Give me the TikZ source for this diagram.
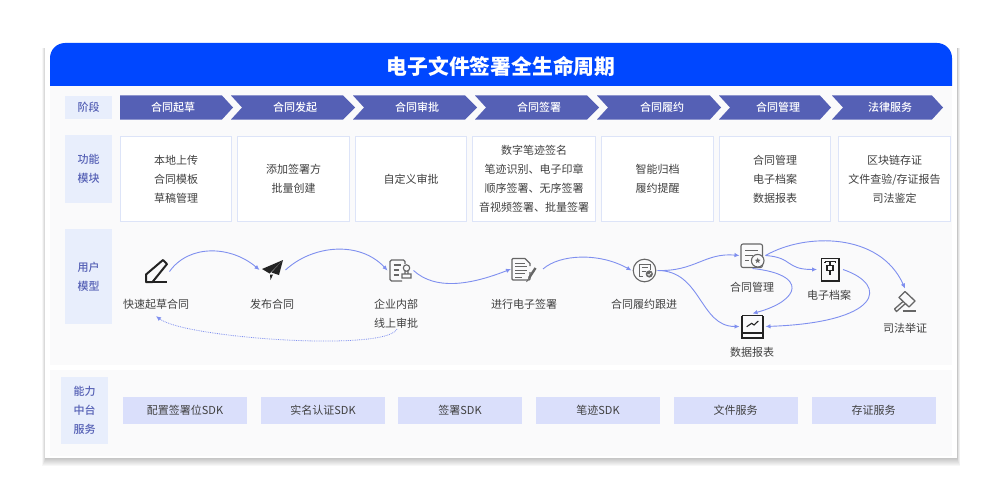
\documentclass[tikz,border=0pt]{standalone}
\usepackage{fontspec}
\setmainfont{Noto Sans CJK SC}
\newfontfamily\mediumfont{Noto Sans CJK SC Medium}
\usetikzlibrary{arrows.meta}
\definecolor{headblue}{HTML}{0047FF}
\definecolor{pagegray}{HTML}{FAFAFB}
\definecolor{stageblue}{HTML}{5560B5}
\definecolor{labelfill}{HTML}{E8EEFC}
\definecolor{boxline}{HTML}{DDE4F8}
\definecolor{sdkfill}{HTML}{DADFFB}
\definecolor{flowblue}{HTML}{7F8FEF}
\definecolor{texttone}{HTML}{404040}
\definecolor{icongray}{HTML}{666666}
\definecolor{icondark}{HTML}{232323}
\tikzset{
  every node/.style={inner sep=0pt,outer sep=0pt,align=center,text=texttone,font=\fontsize{11}{19}\selectfont},
  rowlabel/.style={fill=labelfill,text=stageblue,font=\fontsize{11}{19}\selectfont\mediumfont,minimum width=47pt},
  stagetext/.style={text=white,font=\fontsize{11}{19}\selectfont\mediumfont},
  funcbox/.style={draw=boxline,line width=1pt,fill=white,minimum height=85pt},
  sdkbox/.style={fill=sdkfill,minimum width=124pt,minimum height=26.5pt},
  iconbox/.style={minimum width=26pt,minimum height=26pt},
  flow/.style={draw=flowblue,line width=0.9pt,-{Latex[length=5pt,width=4.5pt]}},
  backflow/.style={flow,line width=0.8pt,densely dotted},
  shadowlayer/.style={fill=black,opacity=0.03}
}
\begin{document}
\begin{tikzpicture}[x=1pt,y=-1pt]
\useasboundingbox (0,0) rectangle (1000,500);
\fill [shadowlayer] (42,48) rectangle (960,466);
\fill [shadowlayer] (42.5,48) rectangle (959.5,465);
\fill [shadowlayer] (43,48) rectangle (959,464);
\fill [shadowlayer] (43.5,48) rectangle (958.5,463);
\fill [shadowlayer] (44,48) rectangle (958,462);
\fill [shadowlayer] (44.5,48) rectangle (957.5,461);
\fill [shadowlayer] (44.5,48) rectangle (957.5,460);
\fill [shadowlayer] (44.5,48) rectangle (957.5,459);
\fill [white] (45,43) rectangle (957,458);
\fill [pagegray] (50,86) rectangle (952,365);
\fill [pagegray] (50,370) rectangle (952,456);
\fill [headblue] (50,86) [rounded corners=15pt] -- (50,43) -- (952,43) [sharp corners] -- (952,86) -- cycle;
\node [text=white,font=\fontsize{20.8}{26}\selectfont\bfseries] (title) at (501,66) {电子文件签署全生命周期};

\node [rowlabel,minimum height=23pt] (stagelabel) at (88.5,107.5) {阶段};
\fill [stageblue] (120,95.5) -- (222,95.5) -- (233,107.5) -- (222,119.5) -- (120,119.5) -- cycle;
\fill [stageblue] (231,95.5) -- (343,95.5) -- (355,107.5) -- (343,119.5) -- (231,119.5) -- (242,107.5) -- cycle;
\fill [stageblue] (353,95.5) -- (465,95.5) -- (477,107.5) -- (465,119.5) -- (353,119.5) -- (364,107.5) -- cycle;
\fill [stageblue] (475,95.5) -- (587,95.5) -- (599,107.5) -- (587,119.5) -- (475,119.5) -- (486,107.5) -- cycle;
\fill [stageblue] (597,95.5) -- (710,95.5) -- (721,107.5) -- (710,119.5) -- (597,119.5) -- (608,107.5) -- cycle;
\fill [stageblue] (719,95.5) -- (820,95.5) -- (831,107.5) -- (820,119.5) -- (719,119.5) -- (730,107.5) -- cycle;
\fill [stageblue] (832,95.5) -- (932,95.5) -- (943,107.5) -- (932,119.5) -- (832,119.5) -- (843,107.5) -- cycle;
\node [stagetext] (draftstage) at (173,107.5) {合同起草};
\node [stagetext] (launchstage) at (295,107.5) {合同发起};
\node [stagetext] (approvestage) at (417,107.5) {合同审批};
\node [stagetext] (signstage) at (539,107.5) {合同签署};
\node [stagetext] (fulfilstage) at (662,107.5) {合同履约};
\node [stagetext] (managestage) at (778,107.5) {合同管理};
\node [stagetext] (lawstage) at (890,107.5) {法律服务};

\node [rowlabel,minimum height=68pt] (funclabel) at (88.5,169) {功能\\模块};
\node [funcbox,minimum width=111pt] (draftfunc) at (176,179) {本地上传\\合同模板\\草稿管理};
\node [funcbox,minimum width=112pt] (launchfunc) at (293.5,179) {添加签署方\\批量创建};
\node [funcbox,minimum width=111pt] (approvefunc) at (411,179) {自定义审批};
\node [funcbox,minimum width=123pt] (signfunc) at (534,179) {数字笔迹签名\\笔迹识别、电子印章\\顺序签署、无序签署\\音视频签署、批量签署};
\node [funcbox,minimum width=112pt] (fulfilfunc) at (657.5,179) {智能归档\\履约提醒};
\node [funcbox,minimum width=111pt] (managefunc) at (775,179) {合同管理\\电子档案\\数据报表};
\node [funcbox,minimum width=112pt] (lawfunc) at (894.5,179) {区块链存证\\文件查验/存证报告\\司法鉴定};

\node [rowlabel,minimum height=95pt] (userlabel) at (88.5,276.5) {用户\\模型};
\node [iconbox] (pen) at (156.5,271.5) {};
\node [iconbox] (plane) at (272.5,270) {};
\node [iconbox] (stamp) at (400.5,270.5) {};
\node [iconbox] (sign) at (524,269) {};
\node [iconbox] (follow) at (644.5,270.5) {};
\node [iconbox] (manage) at (752.5,255.5) {};
\node [iconbox] (archive) at (830,269.5) {};
\node [iconbox] (gavel) at (905,301.5) {};
\node [iconbox] (report) at (752.5,326.5) {};
\node (pentext) at (156,304) {快速起草合同};
\node (planetext) at (272,304) {发布合同};
\node (stamptext) at (396,313.5) {企业内部\\线上审批};
\node (signtext) at (524,304) {进行电子签署};
\node (followtext) at (644,304) {合同履约跟进};
\node (managetext) at (752,287) {合同管理};
\node (archivetext) at (829,295) {电子档案};
\node (gaveltext) at (905,328) {司法举证};
\node (reporttext) at (752,352) {数据报表};

\draw [icondark,line width=2pt,line join=round] (146,274.5) -- (163,260) -- (167,264) -- (152.5,282) -- (146,282) -- cycle;
\draw [icondark,line width=2pt] (146,282) -- (167,282);
\fill [icondark] (283,260) -- (262,269) -- (269.5,273.5) -- cycle;
\fill [icondark] (283,260) -- (271.5,272.5) -- (279,275) -- cycle;
\fill [icondark] (270,274.5) -- (273,274.5) -- (270.5,280) -- cycle;
\draw [icongray,line width=1.1pt,rounded corners=1.5pt] (405,264) -- (405,260) -- (390,260) -- (390,281) -- (402,281);
\draw [icongray,line width=1.1pt] (393.5,265) -- (401,265) (393.5,270) -- (399,270) (393.5,275) -- (399,275);
\draw [icongray,line width=1.1pt] (406.5,268) circle (3.2) (405,271) -- (405,274) (408,271) -- (408,274) (402,274) rectangle (411,278);
\draw [icongray,line width=1.1pt,rounded corners=1pt] (525,258.5) -- (512,258.5) -- (512,280) -- (530,280) -- (530,272);
\draw [icongray,line width=1.1pt] (525,258.5) -- (530,263.5) -- (530,266);
\draw [icongray,line width=1pt] (515,263) -- (525,263) (515,266.5) -- (527,266.5) (515,270) -- (527,270) (515,273.5) -- (525,273.5) (515,277) -- (522,277);
\draw [icongray,line width=2.4pt] (535.5,268) -- (529,278);
\draw [icongray,line width=0.8pt] (529,278) -- (526.5,282);
\draw [icongray,line width=1.1pt] (follow) circle (11.3);
\draw [icongray,line width=1pt] (643,276.5) -- (639,276.5) -- (639,264) -- (650,264) -- (650,270);
\draw [icongray,line width=0.9pt] (641.5,267.5) -- (647.5,267.5) (641.5,271) -- (645.5,271);
\fill [icongray] (649.3,274) circle (3.6);
\draw [white,line width=0.7pt] (647.6,274) -- (649,275.4) -- (651.2,272.8);
\draw [icongray,line width=1.1pt,rounded corners=2pt] (741,244) rectangle (762.5,267.5);
\draw [icongray,line width=1pt] (745,250) -- (758,250) (745,255) -- (753,255) (745,260) -- (749,260);
\filldraw [draw=icongray,fill=pagegray,line width=1.1pt] (757.7,260.7) circle (6.3);
\fill [icongray,shift={(757.7,260.7)}] (0,-3) -- (0.8,-1) -- (2.9,-0.9) -- (1.3,0.4) -- (1.8,2.4) -- (0,1.2) -- (-1.8,2.4) -- (-1.3,0.4) -- (-2.9,-0.9) -- (-0.8,-1) -- cycle;
\draw [icondark,line width=1.7pt] (821.5,258.5) rectangle (839,281);
\draw [icondark,line width=1.1pt] (825,261.5) -- (835.5,261.5) -- (835.5,263) (825,261.5) -- (825,263) (830,261.5) -- (830,265.5) (830,270.5) -- (830,275) (827,265.5) rectangle (833,270.5);
\draw [icongray,line width=1.3pt,line join=round] (899,297.5) -- (905,291.5) -- (915,301) -- (909,307) -- cycle;
\draw [icongray,line width=1.3pt,line join=round] (903,301.5) -- (894.5,309) -- (896.5,311.5) -- (905.5,303.5);
\draw [icongray,line width=1.5pt] (902.5,311) -- (916,311);
\draw [icondark,line width=1.3pt] (742,315.5) -- (763,315.5) (742,315.5) -- (742,338) -- (763,338) -- (763,315.5) (742,333) -- (763,333);
\draw [icondark,line width=1.1pt] (746.7,326.7) -- (751.7,323.3) -- (754,325) -- (758.3,321);

\draw [flow] (pen.east) .. controls +(20,-28) and +(-28,-24) .. (plane.west);
\draw [flow] (plane.east) .. controls +(27,-25) and +(-28,-30) .. (stamp.west);
\draw [flow] (stamp.east) .. controls +(22,20) and +(-41,16) .. (sign.west);
\draw [flow] ([xshift=6pt]sign.east) .. controls +(17,-15) and +(-32,-18) .. (follow.west);
\draw [flow] (follow.east) .. controls +(38,1) and +(-35,-3) .. (manage.west);
\draw [flow] (follow.east) .. controls +(44,0) and +(-40,0) .. (report.west);
\draw [flow] (manage.east) .. controls +(28,2) and +(-32,0) .. (archive.west);
\draw [flow] (manage.east) .. controls +(40,-23) and +(-25,-56) .. (gavel.north);
\draw [flow] (manage.south) .. controls +(56,6) and +(48,-13) .. (report.north);
\draw [flow] (archive.east) .. controls +(47,16) and +(115,-4) .. (report.east);
\draw [backflow] ([xshift=1pt,yshift=-1pt]stamptext.south) .. controls +(-12,23) and +(29,22) .. ([yshift=-7pt]pentext.south);

\node [rowlabel,minimum height=67pt] (sdklabel) at (84.5,410.5) {能力\\中台\\服务};
\node [sdkbox] (slotsdk) at (185,410.5) {配置签署位SDK};
\node [sdkbox] (namesdk) at (323,410.5) {实名认证SDK};
\node [sdkbox] (signsdk) at (460,410.5) {签署SDK};
\node [sdkbox] (inksdk) at (598,410.5) {笔迹SDK};
\node [sdkbox] (filesdk) at (735.5,410.5) {文件服务};
\node [sdkbox] (proofsdk) at (873.5,410.5) {存证服务};
\end{tikzpicture}
\end{document}
